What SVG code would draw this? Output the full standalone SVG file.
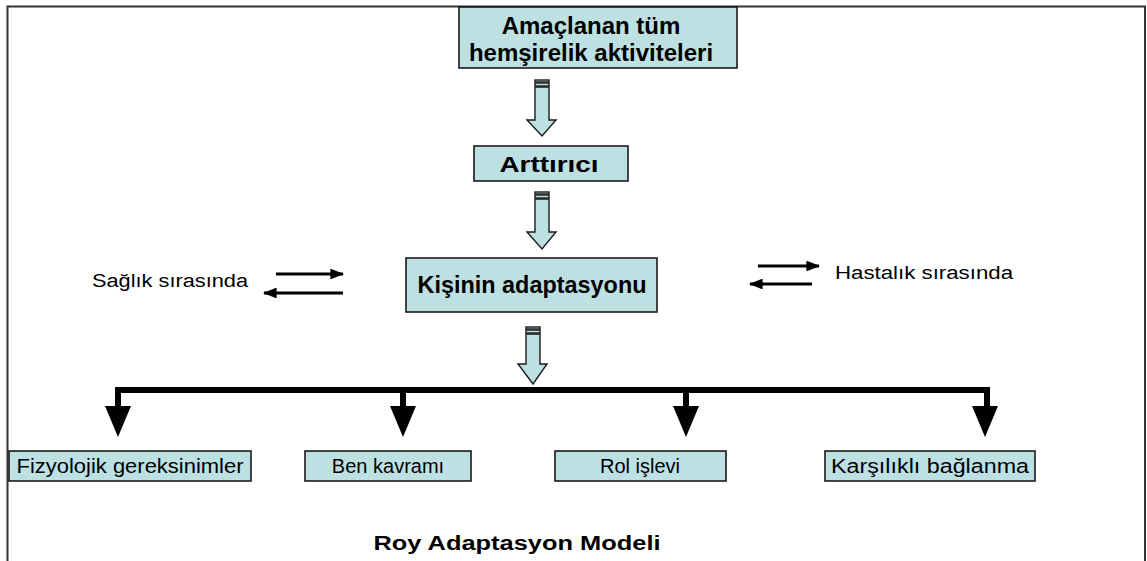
<svg xmlns="http://www.w3.org/2000/svg" width="1147" height="561" viewBox="0 0 1147 561">
<style>
.box{fill:#BDE0E3;stroke:#1a1a1a;stroke-width:1.6}
.bt{font-family:"Liberation Sans",Arial,sans-serif;font-weight:bold;fill:#000;text-anchor:middle}
.rt{font-family:"Liberation Sans",Arial,sans-serif;fill:#000;text-anchor:middle}
.blk{fill:#BDE0E3;stroke:#1a1a1a;stroke-width:1.4;stroke-linejoin:miter}
.ln{stroke:#000;stroke-width:3;fill:none}
.thick{stroke:#000;stroke-width:6;fill:none}
</style>
<defs>
<marker id="ah" markerWidth="4.6" markerHeight="3.6" refX="4.2" refY="1.8" orient="auto" markerUnits="strokeWidth">
<path d="M0,0 L4.6,1.8 L0,3.6 Z" fill="#000"/>
</marker>
</defs>
<g id="frame" fill="none" stroke="#333" stroke-width="2">
<path d="M7.5,561 V6.5 H1145 V561"/>
</g>
<g id="node-amaclanan">
<rect class="box" x="459" y="7" width="278" height="61"/>
<text class="bt" x="591" y="34" font-size="24">Amaçlanan tüm</text>
<text class="bt" x="591" y="61" font-size="24">hemşirelik aktiviteleri</text>
</g>
<g id="node-arttirici">
<rect class="box" x="474" y="146" width="154" height="35"/>
<text class="bt" x="549" y="172" font-size="22" textLength="99" lengthAdjust="spacingAndGlyphs">Arttırıcı</text>
</g>
<g id="node-kisinin">
<rect class="box" x="406" y="258" width="251" height="54"/>
<text class="bt" x="532" y="293" font-size="24" textLength="229" lengthAdjust="spacingAndGlyphs">Kişinin adaptasyonu</text>
</g>
<g id="label-saglik">
<text class="rt" x="170" y="287" font-size="18" textLength="156" lengthAdjust="spacingAndGlyphs">Sağlık sırasında</text>
</g>
<g id="label-hastalik">
<text class="rt" x="924" y="279" font-size="18" textLength="178" lengthAdjust="spacingAndGlyphs">Hastalık sırasında</text>
</g>
<g id="node-fizyolojik">
<rect class="box" x="9" y="451" width="242" height="30"/>
<text class="rt" x="130" y="473" font-size="20" textLength="227" lengthAdjust="spacingAndGlyphs">Fizyolojik gereksinimler</text>
</g>
<g id="node-ben">
<rect class="box" x="305" y="451" width="166" height="30"/>
<text class="rt" x="388" y="473" font-size="20">Ben kavramı</text>
</g>
<g id="node-rol">
<rect class="box" x="555" y="451" width="171" height="30"/>
<text class="rt" x="640" y="473" font-size="20">Rol işlevi</text>
</g>
<g id="node-karsilikli">
<rect class="box" x="825" y="451" width="210" height="30"/>
<text class="rt" x="930" y="473" font-size="20" textLength="198" lengthAdjust="spacingAndGlyphs">Karşılıklı bağlanma</text>
</g>
<g id="caption">
<text class="bt" x="517" y="550" font-size="20" textLength="287" lengthAdjust="spacingAndGlyphs">Roy Adaptasyon Modeli</text>
</g>
<g id="connectors">
<g id="arrow1">
<rect class="blk" x="535" y="80" width="14" height="2"/>
<rect class="blk" x="535" y="83" width="14" height="3"/>
<path class="blk" d="M535,87 H549 V120 H556 L542,136 L527,120 H535 Z"/>
</g>
<g id="arrow2">
<rect class="blk" x="535" y="192" width="14" height="2"/>
<rect class="blk" x="535" y="195" width="14" height="3"/>
<path class="blk" d="M535,199 H549 V232 H556 L542,249 L527,232 H535 Z"/>
</g>
<g id="arrow3">
<rect class="blk" x="526" y="327" width="14" height="2"/>
<rect class="blk" x="526" y="330" width="14" height="3"/>
<path class="blk" d="M526,334 H540 V364 H547 L533,384 L518,364 H526 Z"/>
</g>
<line class="ln" x1="276" y1="274" x2="343" y2="274" marker-end="url(#ah)"/>
<line class="ln" x1="343" y1="293" x2="264" y2="293" marker-end="url(#ah)"/>
<line class="ln" x1="758" y1="266" x2="819" y2="266" marker-end="url(#ah)"/>
<line class="ln" x1="812" y1="284" x2="750" y2="284" marker-end="url(#ah)"/>
<path class="thick" d="M118,408 V390 H987 V408"/>
<line class="thick" x1="403" y1="390" x2="403" y2="408"/>
<line class="thick" x1="686" y1="390" x2="686" y2="408"/>
<g fill="#000">
<path d="M105,406 H131 L118,437 Z"/>
<path d="M390,406 H416 L403,437 Z"/>
<path d="M673,406 H699 L686,437 Z"/>
<path d="M972,406 H998 L985,437 Z"/>
</g>
</g>
</svg>
